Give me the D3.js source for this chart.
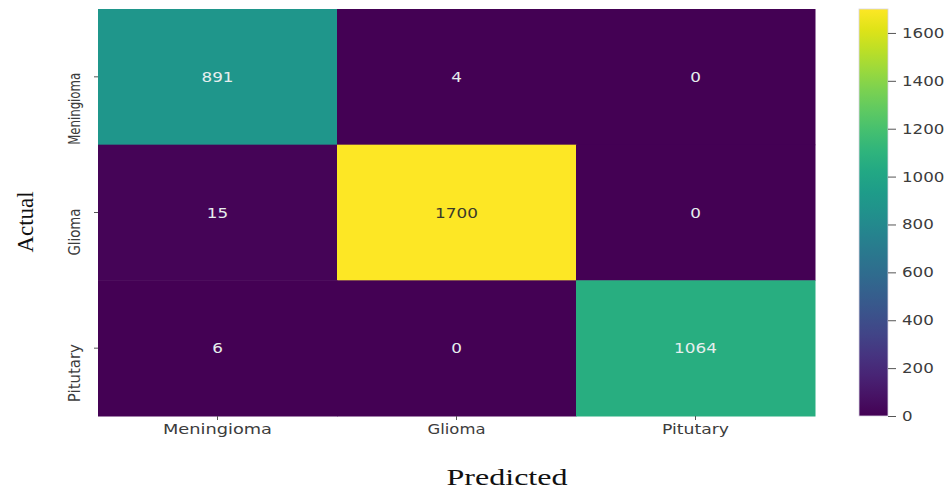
<!DOCTYPE html>
<html>
<head>
<meta charset="utf-8">
<script src="https://cdn.jsdelivr.net/npm/d3@7"></script>
<style>
  html, body { margin: 0; padding: 0; background: #ffffff; }
  svg { display: block; }
</style>
</head>
<body>
<svg id="chart" width="949" height="490"></svg>
<script>
// Confusion matrix: rows are actual classes, columns are predicted classes
const classes = ["Meningioma", "Glioma", "Pitutary"];
const rowMeningioma = [891, 4, 0];
const rowGlioma = [15, 1700, 0];
const rowPitutary = [6, 0, 1064];
const colorbarTicks = [0, 200, 400, 600, 800, 1000, 1200, 1400, 1600];
const colorMax = 1700;

const matrix = [rowMeningioma, rowGlioma, rowPitutary];
const cells = [];
matrix.forEach((row, r) => row.forEach((v, c) => cells.push({ actual: classes[r], predicted: classes[c], value: v })));

const svg = d3.select("#chart");
const plot = { left: 98, right: 815, top: 9, bottom: 416 };
const bar = { left: 859, right: 888 };

const x = d3.scaleBand().domain(classes).range([plot.left, plot.right]);
const y = d3.scaleBand().domain(classes).range([plot.top, plot.bottom]);
const color = d3.scaleSequential(d3.interpolateViridis).domain([0, colorMax]);

// relative luminance, used to pick a readable annotation colour
function luminance(c) {
  const rgb = d3.rgb(c);
  const lin = v => { v /= 255; return v <= 0.03928 ? v / 12.92 : Math.pow((v + 0.055) / 1.055, 2.4); };
  return 0.2126 * lin(rgb.r) + 0.7152 * lin(rgb.g) + 0.0722 * lin(rgb.b);
}

// heatmap cells
svg.append("g").selectAll("rect").data(cells).join("rect")
  .attr("x", d => x(d.predicted))
  .attr("y", d => y(d.actual))
  .attr("width", x.bandwidth() + 0.5)
  .attr("height", y.bandwidth() + 0.5)
  .attr("fill", d => color(d.value));

// cell annotations, dark text on light cells
const textWidth = s => String(s).length * 10.7;
svg.append("g").selectAll("text").data(cells).join("text")
  .attr("x", d => x(d.predicted) + x.bandwidth() / 2)
  .attr("y", d => y(d.actual) + y.bandwidth() / 2 + 5)
  .attr("text-anchor", "middle")
  .attr("font-family", "DejaVu Sans, sans-serif")
  .attr("font-size", 14)
  .attr("textLength", d => textWidth(d.value))
  .attr("lengthAdjust", "spacingAndGlyphs")
  .attr("fill", d => luminance(color(d.value)) > 0.408 ? "#3a3a2a" : "#e6eeee")
  .text(d => d.value);

// x axis
const xAxis = svg.append("g").attr("transform", `translate(0,${plot.bottom})`)
  .call(d3.axisBottom(x).tickSize(4).tickPadding(4));
xAxis.select(".domain").remove();
xAxis.selectAll(".tick line").attr("stroke", "#555");
const xLabelWidths = { Meningioma: 109, Glioma: 58, Pitutary: 67 };
xAxis.selectAll(".tick text")
  .attr("font-family", "DejaVu Sans, sans-serif")
  .attr("font-size", 14)
  .attr("fill", "#3c3c3c")
  .attr("textLength", d => xLabelWidths[d])
  .attr("lengthAdjust", "spacingAndGlyphs");

// y axis with vertical labels
const yAxis = svg.append("g").attr("transform", `translate(${plot.left},0)`)
  .call(d3.axisLeft(y).tickSize(4));
yAxis.select(".domain").remove();
yAxis.selectAll(".tick line").attr("stroke", "#555");
const yLabelLengths = { Meningioma: 72, Glioma: 47, Pitutary: 58 };
yAxis.selectAll(".tick text")
  .attr("x", null).attr("dy", null)
  .attr("transform", "translate(-18,-4) rotate(-90)")
  .attr("text-anchor", "end")
  .attr("font-family", "DejaVu Sans, sans-serif")
  .attr("font-size", 15.5)
  .attr("fill", "#3c3c3c")
  .attr("textLength", d => yLabelLengths[d])
  .attr("lengthAdjust", "spacingAndGlyphs");

// colorbar gradient
const defs = svg.append("defs");
const grad = defs.append("linearGradient").attr("id", "viridis-bar")
  .attr("x1", 0).attr("y1", 1).attr("x2", 0).attr("y2", 0);
d3.range(0, 1.0001, 0.05).forEach(t => {
  grad.append("stop").attr("offset", t).attr("stop-color", d3.interpolateViridis(t));
});
svg.append("rect")
  .attr("x", bar.left).attr("y", plot.top)
  .attr("width", bar.right - bar.left).attr("height", plot.bottom - plot.top)
  .attr("fill", "url(#viridis-bar)")
  .attr("stroke", "#d9d4e4").attr("stroke-width", 0.8);

const cScale = d3.scaleLinear().domain([0, colorMax]).range([plot.bottom, plot.top]);
const cAxis = svg.append("g").attr("transform", `translate(${bar.right},0)`)
  .call(d3.axisRight(cScale).tickValues(colorbarTicks).tickFormat(d3.format("d")).tickSize(8).tickPadding(6));
cAxis.select(".domain").remove();
cAxis.selectAll(".tick line").attr("stroke", "#555");
cAxis.selectAll(".tick text")
  .attr("font-family", "DejaVu Sans, sans-serif")
  .attr("font-size", 14)
  .attr("fill", "#3c3c3c")
  .attr("textLength", d => String(d).length * 10.6)
  .attr("lengthAdjust", "spacingAndGlyphs");

// axis titles
svg.append("text")
  .attr("transform", "translate(33,222) rotate(-90)")
  .attr("text-anchor", "middle")
  .attr("font-family", "Liberation Serif, Times New Roman, serif")
  .attr("font-size", 23)
  .attr("fill", "#111")
  .attr("textLength", 61)
  .attr("lengthAdjust", "spacingAndGlyphs")
  .text("Actual");

svg.append("text")
  .attr("x", 507).attr("y", 485)
  .attr("text-anchor", "middle")
  .attr("font-family", "Liberation Serif, Times New Roman, serif")
  .attr("font-size", 23)
  .attr("fill", "#111")
  .attr("textLength", 121)
  .attr("lengthAdjust", "spacingAndGlyphs")
  .text("Predicted");
</script>
</body>
</html>
